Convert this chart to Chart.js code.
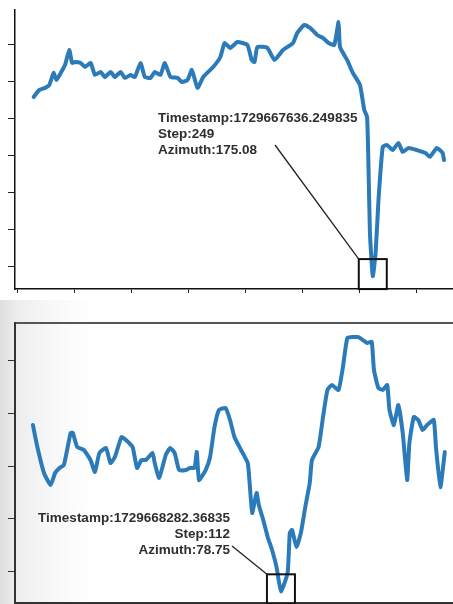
<!DOCTYPE html>
<html>
<head>
<meta charset="utf-8">
<script src="https://cdn.jsdelivr.net/npm/chart.js@4"></script>
<style>
  body { margin: 0; background: #fff; }
  .panel { width: 453px; position: relative; }
  #topPanel { height: 300px; }
  #bottomPanel {
    height: 304px;
    background: linear-gradient(to right, #dedede 0px, #ececec 15px, #f6f6f6 45px, #ffffff 90px);
  }
  canvas { display: block; }
</style>
</head>
<body>
<div class="panel" id="topPanel"><canvas id="topChart" width="453" height="300"></canvas></div>
<div class="panel" id="bottomPanel"><canvas id="bottomChart" width="453" height="304"></canvas></div>
<script>
// run 1: step / azimuth
const topSteps = [11, 15, 19, 22, 25, 27, 30, 33, 36, 38, 40, 44, 47, 51, 54, 58, 61, 65, 68, 72,
  75, 79, 82, 86, 89, 93, 96, 100, 103, 107, 112, 115, 119, 122, 126, 130, 137, 142, 145, 149,
  154, 161, 164, 166, 168, 175, 180, 186, 193, 196, 201, 205, 210, 214, 218, 222, 225, 226, 231, 235,
  240, 243, 245, 246, 247, 249, 251, 253, 256, 259, 263, 267, 270, 274, 280, 286, 289, 294, 298, 299];
const topAzimuth = [271.9, 275.7, 276.8, 278.4, 284.9, 281.1, 284.9, 289.2, 297.3, 290.3,
  290.8, 290.3, 288.1, 290.3, 283.8, 285.4, 282.7, 285.4, 282.7, 285.4,
  282.2, 283.8, 282.7, 290.3, 282.7, 282.2, 285.4, 283.8, 290.3, 282.7,
  282.2, 280.0, 281.1, 286.5, 276.8, 282.7, 288.1, 293.5, 301.1, 298.4,
  301.6, 300.0, 291.9, 290.8, 298.9, 298.4, 291.9, 297.3, 301.1, 306.5,
  310.8, 309.2, 305.4, 303.8, 301.1, 300.0, 312.4, 298.9, 291.9, 284.9,
  278.4, 264.9, 261.1, 234.1, 198.4, 175.08, 187.6, 216.2, 244.9, 245.9,
  243.2, 247.0, 242.2, 244.3, 243.2, 241.6, 239.5, 244.3, 241.6, 237.8];
const topTimestamp = '1729667636.249835';

// run 2: lower plot
const bottomSteps = [0, 2, 5, 8, 10, 12, 14, 17, 18, 20, 23, 26, 28, 30, 33, 35, 37, 40, 42, 45,
  47, 49, 51, 54, 55, 57, 60, 62, 64, 66, 69, 71, 73, 74, 75, 78, 80, 82, 84, 87,
  89, 91, 94, 97, 98, 99, 101, 102, 104, 106, 108, 110, 112, 115, 116, 117, 119, 121, 123, 125,
  126, 129, 131, 133, 135, 138, 140, 142, 145, 147, 149, 151, 153, 154, 156, 158, 160, 161, 163, 165,
  167, 169, 170, 172, 174, 176, 178, 181, 182, 184, 186];
const bottomAzimuth = [173.4, 160.9, 146.1, 139.3, 146.1, 149.0, 150.7, 168.9, 168.9, 160.9,
  159.2, 153.5, 146.7, 157.5, 160.3, 151.8, 155.2, 166.6, 164.9, 160.9,
  149.0, 153.5, 153.5, 157.5, 151.8, 143.3, 156.4, 160.3, 157.5, 147.8,
  147.8, 149.0, 149.0, 158.1, 142.1, 147.8, 155.2, 172.3, 182.0, 183.1,
  176.3, 166.6, 159.2, 151.8, 138.1, 123.3, 134.7, 127.9, 119.4, 109.7,
  102.3, 92.6, 78.75, 89.2, 112.0, 113.7, 104.0, 112.0, 126.8, 140.4,
  153.5, 160.9, 178.0, 193.4, 196.2, 193.4, 206.5, 223.0, 223.5, 223.5,
  221.8, 220.1, 220.7, 204.8, 194.5, 193.4, 196.2, 182.0, 173.4, 184.8,
  168.9, 142.1, 163.2, 178.0, 176.3, 170.6, 173.4, 176.3, 160.9, 138.1, 158.1];
const bottomTimestamp = '1729668282.36835';

const lineColor = '#2b7bba';

// box around the lowest point + label with a leader line
const minMarker = {
  id: 'minMarker',
  afterDatasetsDraw(chart, args, opts) {
    const pts = chart.data.datasets[0].data;
    let idx = 0;
    pts.forEach((p, i) => { if (p.y < pts[idx].y) idx = i; });
    const px = chart.scales.x.getPixelForValue(pts[idx].x);
    const py = chart.scales.y.getPixelForValue(pts[idx].y);
    const bx = px - opts.boxW / 2;
    const by = py - opts.boxUp;
    const ctx = chart.ctx;
    ctx.save();
    ctx.strokeStyle = '#111';
    ctx.lineWidth = 2;
    ctx.strokeRect(bx, by, opts.boxW, opts.boxH);

    ctx.font = opts.font;
    ctx.fillStyle = '#2e2e2e';
    ctx.textAlign = opts.align;
    ctx.textBaseline = 'middle';
    const lines = [
      'Timestamp:' + opts.timestamp,
      'Step:' + pts[idx].x,
      'Azimuth:' + pts[idx].y.toFixed(2)
    ];
    lines.forEach((t, i) => ctx.fillText(t, opts.textX, opts.textY + i * opts.lineGap));

    ctx.lineWidth = 1.3;
    ctx.strokeStyle = '#222';
    ctx.beginPath();
    ctx.moveTo(opts.leadX, opts.leadY);
    ctx.lineTo(bx, by);
    ctx.stroke();
    ctx.restore();
  }
};

function makeChart(id, steps, azimuth, scales, padding, marker) {
  const ctx = document.getElementById(id).getContext('2d');
  return new Chart(ctx, {
    type: 'line',
    data: {
      datasets: [{
        data: steps.map((s, i) => ({ x: s, y: azimuth[i] })),
        borderColor: lineColor,
        borderWidth: 4,
        pointRadius: 0,
        tension: 0.15,
        borderJoinStyle: 'round',
        borderCapStyle: 'round',
        fill: false
      }]
    },
    options: {
      responsive: false,
      animation: false,
      layout: { padding: padding },
      plugins: {
        legend: { display: false },
        tooltip: { enabled: false },
        minMarker: marker
      },
      scales: scales
    },
    plugins: [minMarker]
  });
}

makeChart('topChart', topSteps, topAzimuth, {
  x: {
    type: 'linear', min: -2.1, max: 305.3,
    ticks: { display: false, stepSize: 40, includeBounds: false },
    grid: { drawOnChartArea: false, drawTicks: true, tickLength: 4, color: '#222', lineWidth: 1 },
    border: { color: '#111', width: 1.5 }
  },
  y: {
    type: 'linear', min: 168.1, max: 318.9,
    ticks: { display: false, stepSize: 20, includeBounds: false },
    grid: { drawOnChartArea: false, drawTicks: true, tickLength: 7, color: '#222', lineWidth: 1 },
    border: { color: '#111', width: 1.5 }
  }
}, { left: 8, top: 10, right: 0, bottom: 7 }, {
  timestamp: topTimestamp,
  boxW: 28, boxH: 30, boxUp: 17,
  font: 'bold 13.5px "Liberation Sans", Arial, sans-serif',
  align: 'left', textX: 158, textY: 118, lineGap: 16,
  leadX: 275, leadY: 145
});

makeChart('bottomChart', bottomSteps, bottomAzimuth, {
  x: {
    type: 'linear', min: -8.1, max: 189.7,
    ticks: { display: false, stepSize: 20, includeBounds: false },
    grid: { drawOnChartArea: false, drawTicks: false },
    border: { color: '#333', width: 2 }
  },
  x2: {
    type: 'linear', position: 'top', min: -8.1, max: 189.7,
    ticks: { display: false },
    grid: { display: false, drawTicks: false },
    border: { color: '#555', width: 2 }
  },
  y: {
    type: 'linear', min: 72.1, max: 231.5,
    ticks: { display: false, stepSize: 30, includeBounds: false },
    grid: { drawOnChartArea: false, drawTicks: true, tickLength: 7, color: '#333', lineWidth: 1 },
    border: { color: '#333', width: 2 }
  }
}, { left: 8, top: 23, right: 0, bottom: 1 }, {
  timestamp: bottomTimestamp,
  boxW: 28, boxH: 30, boxUp: 17,
  font: 'bold 13.5px "Liberation Sans", Arial, sans-serif',
  align: 'right', textX: 230, textY: 218, lineGap: 16,
  leadX: 232, leadY: 246
});
</script>
</body>
</html>
